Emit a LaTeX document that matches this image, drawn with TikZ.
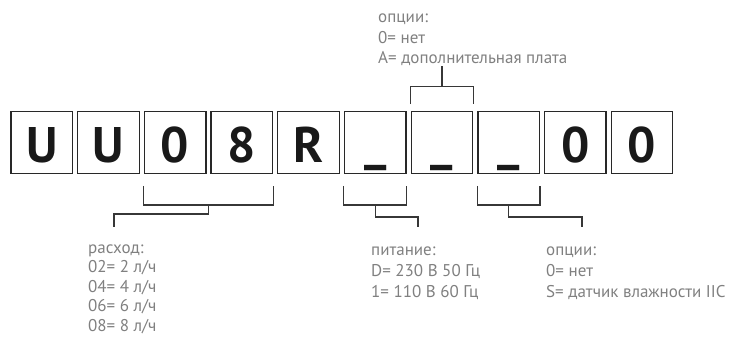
\documentclass[tikz,border=0pt]{standalone}
\usepackage{fontspec}
\setmainfont{PT Sans}
\usepackage{tikz}
\usetikzlibrary{positioning,calc}
\definecolor{boxgray}{RGB}{40,40,40}
\definecolor{linegray}{RGB}{55,55,55}
\definecolor{textgray}{RGB}{128,128,128}
\newcommand{\emptyslot}{\raisebox{3pt}{\_}}

\begin{document}
\begin{tikzpicture}[x=1pt,y=-1pt,
    charbox/.style={draw=boxgray, line width=1.3pt, minimum width=61.5pt, minimum height=61.5pt,
        inner sep=0pt, text height=39pt, text depth=0pt, text=black!90,
        font=\fontsize{50}{50}\selectfont\bfseries},
    bracket/.style={draw=linegray, line width=1.2pt},
    lbl/.style={anchor=north west, align=left, inner sep=0pt, text=textgray,
        font=\fontsize{17}{20.6}\selectfont}]
    \useasboundingbox (0,0) rectangle (731,338);

    % --- Code boxes ---
    \foreach \ch [count=\i] in {U,U,0,8,R,\emptyslot,\emptyslot,\emptyslot,0,0}{
        \node[charbox] (c\i) at ({41.75+66.7*(\i-1)},142.5) {\ch};
    }

    % --- Labels ---
    \node[lbl] (opttop) at (378,13.5) {опции:\\0= нет\\A= дополнительная плата};
    \node[lbl, font=\fontsize{17}{19.4}\selectfont] (flow) at (88,244.5)
        {расход:\\02= 2 л/ч\\04= 4 л/ч\\06= 6 л/ч\\08= 8 л/ч};
    \node[lbl] (power) at (371,247) {питание:\\D= 230 В 50 Гц\\1= 110 В 60 Гц};
    \node[lbl] (optbot) at (546,247) {опции:\\0= нет\\S= датчик влажности IIC};

    % --- Top bracket (options) ---
    \draw[bracket] ($(c7.north west)+(0,-7)$) -- ++(0,-18) -| ($(c7.north east)+(0,-7)$);
    \draw[bracket] ($(c7.north)+(0,-25)$) -- (c7.north |- opttop.south);

    % --- Bottom brackets ---
    % flow rate
    \draw[bracket] ($(c3.south west)+(0,12)$) -- ++(0,19) -| ($(c4.south east)+(0,12)$);
    \draw[bracket] ($(c3.south west)!0.5!(c4.south east)+(0,31)$) -- ++(0,9)
        -| ($(flow.north west)+(26,-17.5)$);
    % power supply
    \draw[bracket] ($(c6.south west)+(0,12)$) -- ++(0,19) -| ($(c6.south east)+(0,12)$);
    \draw[bracket] ($(c6.south)+(0,31)$) -- ++(0,12) -| ($(power.north west)+(47,-20)$);
    % options
    \draw[bracket] ($(c8.south west)+(0,12)$) -- ++(0,19) -| ($(c8.south east)+(0,12)$);
    \draw[bracket] ($(c8.south)+(0,31)$) -- ++(0,12) -| ($(optbot.north west)+(36,-20)$);
\end{tikzpicture}
\end{document}
